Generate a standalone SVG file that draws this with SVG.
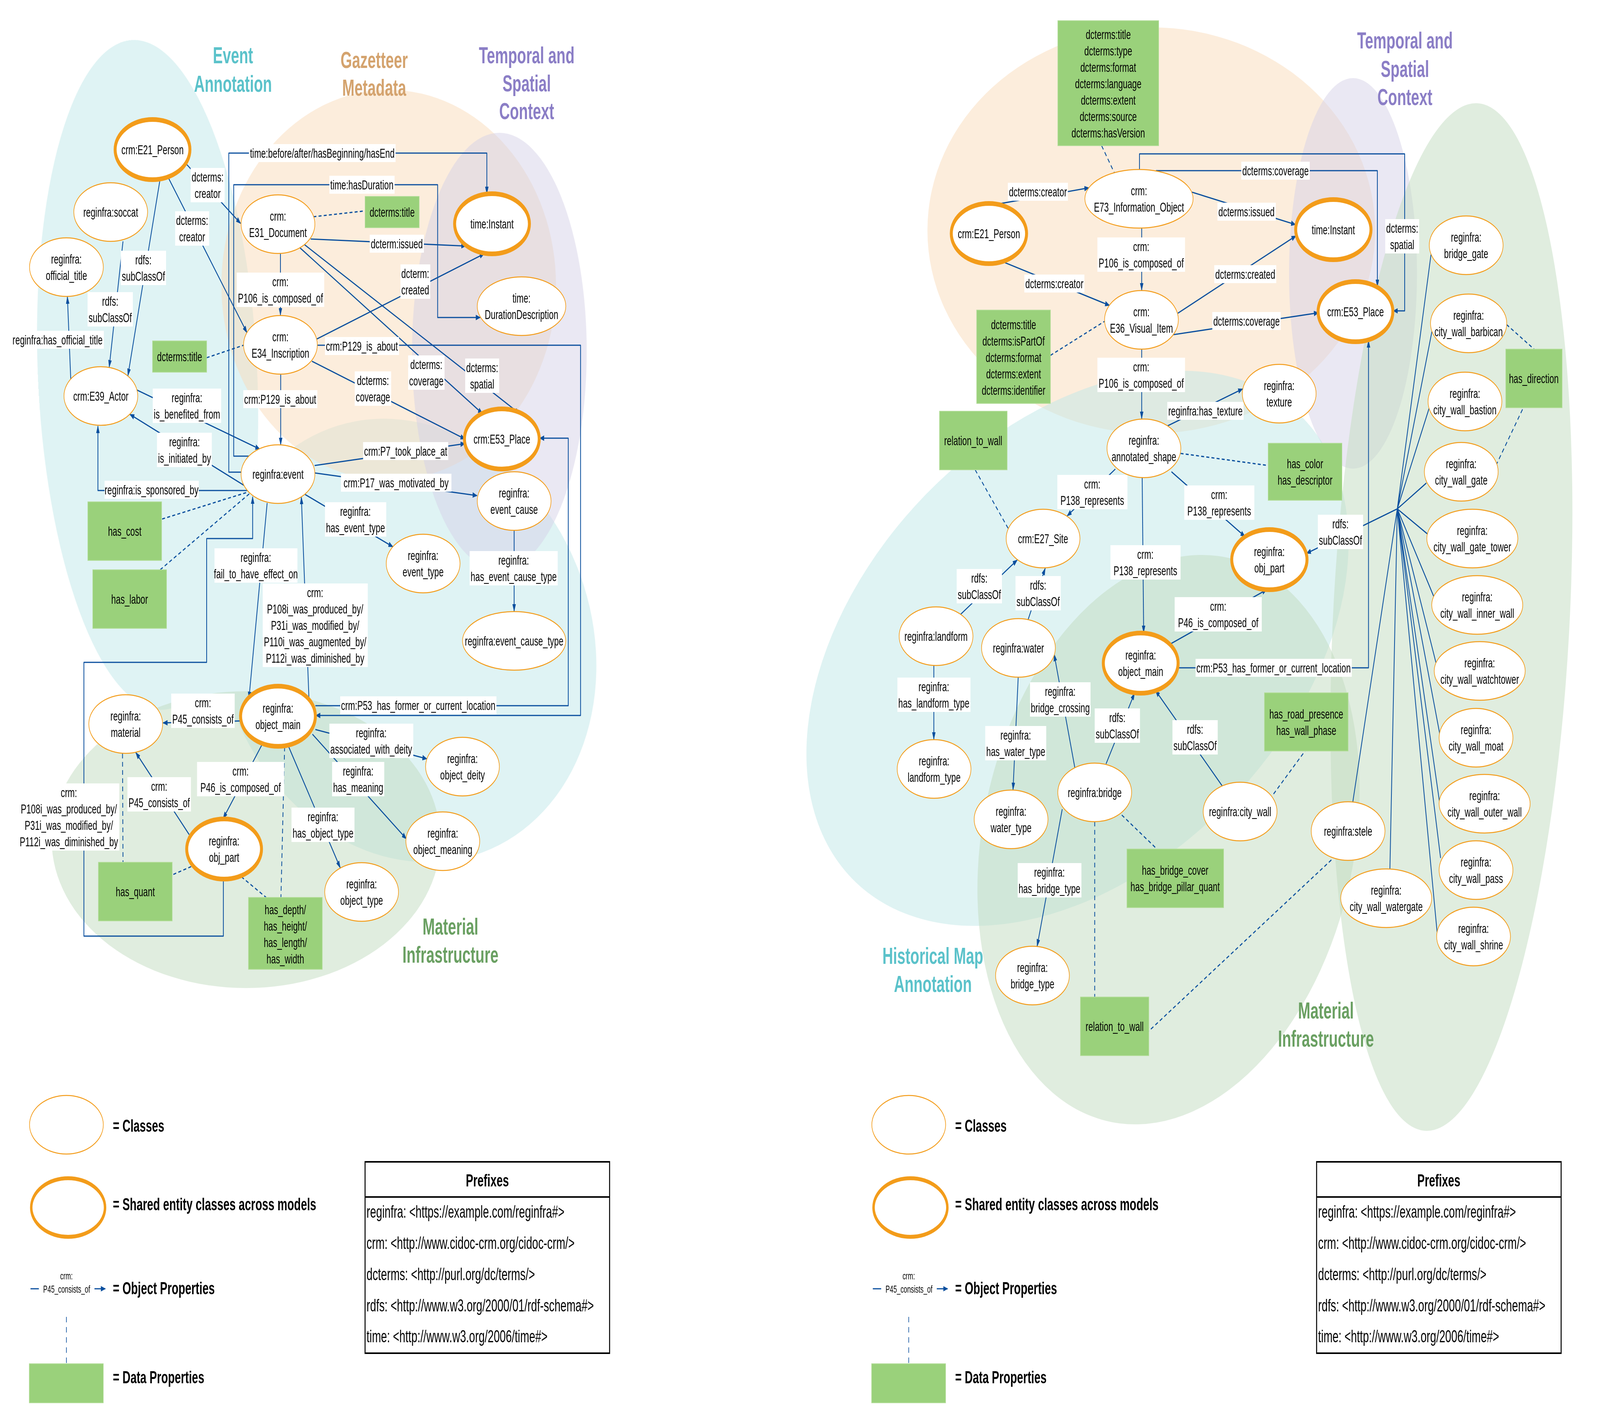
<svg xmlns="http://www.w3.org/2000/svg" width="6504" height="3613" viewBox="0 0 6504 3613" preserveAspectRatio="none">
<defs>
<marker id="ah" markerUnits="userSpaceOnUse" markerWidth="20" markerHeight="14" refX="18" refY="7" orient="auto"><path d="M0,0 L20,7 L0,14 z" fill="#0A4F9E"/></marker>
<style>
@media (max-width: 6400px) { svg:root { width: 100vw; } }
.n{fill:#fff;stroke:#F39C1A;stroke-width:2.5}
.s{fill:#fff;stroke:#F39C1A;stroke-width:12}
.t{font-family:"Liberation Sans",Arial,sans-serif;font-size:34px;fill:#000;text-anchor:middle}
.g{fill:#9AD17B;stroke:#B3DD99;stroke-width:2}
.e{fill:none;stroke:#0A4F9E;stroke-width:3.2;stroke-linejoin:round}
.a{marker-end:url(#ah)}
.d{fill:none;stroke:#0A4F9E;stroke-width:3.2;stroke-dasharray:12 9}
.lb{fill:#fff}
.ti{font-family:"Liberation Sans",Arial,sans-serif;font-weight:bold;font-size:60px;text-anchor:middle}
.lg{font-family:"Liberation Sans",Arial,sans-serif;font-weight:bold;font-size:45px;fill:#000}
.pf{font-family:"Liberation Sans",Arial,sans-serif;font-size:44px;fill:#000}
.sm{font-family:"Liberation Sans",Arial,sans-serif;font-size:26px;fill:#000;text-anchor:middle}
.teal{fill:#5BC2CA}.tan{fill:#D4A36E}.pur{fill:#8B7EC6}.grn{fill:#6AA062}
</style>
</defs>
<rect width="6504" height="3613" fill="#fff"/>

<!-- LEFT BACKGROUND AREAS -->
<g id="bg-left">
<g opacity="0.5" fill="#BFE7E8"><ellipse cx="600" cy="960" rx="445" ry="860" transform="rotate(-5 600 960)"/><ellipse cx="1650" cy="1640" rx="780" ry="560" transform="rotate(10 1650 1640)"/><ellipse cx="900" cy="1600" rx="220" ry="260"/></g>
<ellipse cx="1580" cy="730" rx="680" ry="500" fill="#F9DCBA" opacity="0.5"/>
<ellipse cx="2030" cy="900" rx="355" ry="560" fill="#D6D1E8" opacity="0.5"/>
<ellipse cx="1000" cy="2150" rx="790" ry="380" fill="#C2DCC0" opacity="0.5"/>
</g>
<!-- RIGHT BACKGROUND AREAS -->
<g id="bg-right">
<ellipse cx="4680" cy="590" rx="910" ry="520" fill="#F9DCBA" opacity="0.5"/>
<ellipse cx="5500" cy="700" rx="260" ry="500" fill="#D6D1E8" opacity="0.5"/>
<ellipse cx="4380" cy="1660" rx="1150" ry="630" transform="rotate(-20 4380 1660)" fill="#BFE7E8" opacity="0.5"/>
<ellipse cx="4750" cy="2150" rx="820" ry="680" transform="rotate(-35 4750 2150)" fill="#C2DCC0" opacity="0.5"/>
<ellipse cx="5900" cy="1580" rx="480" ry="1320" transform="rotate(5 5900 1580)" fill="#C2DCC0" opacity="0.5"/>
</g>

<!-- TITLES -->
<g id="titles">
<text class="ti teal" x="947" y="162">Event</text><text class="ti teal" x="947" y="235">Annotation</text>
<text class="ti tan" x="1521" y="174">Gazetteer</text><text class="ti tan" x="1521" y="245">Metadata</text>
<text class="ti pur" x="2141" y="162">Temporal and</text><text class="ti pur" x="2141" y="234">Spatial</text><text class="ti pur" x="2141" y="305">Context</text>
<text class="ti grn" x="1831" y="2393">Material</text><text class="ti grn" x="1831" y="2465">Infrastructure</text>
<text class="ti pur" x="5711" y="124">Temporal and</text><text class="ti pur" x="5711" y="197">Spatial</text><text class="ti pur" x="5711" y="269">Context</text>
<text class="ti teal" x="3792" y="2468">Historical Map</text><text class="ti teal" x="3792" y="2540">Annotation</text>
<text class="ti grn" x="5390" y="2608">Material</text><text class="ti grn" x="5390" y="2680">Infrastructure</text>
</g>

<!-- CONNECTORS -->
<g id="connectors">
<path class="d" d="M1274,555 L1484,540"/>
<path class="d" d="M840,916 L990,884"/>
<path class="d" d="M659,1329 L1018,1258"/>
<path class="d" d="M651,1459 L1018,1262"/>
<path class="d" d="M498,1930 L500,2208"/>
<path class="d" d="M777,2219 L701,2240"/>
<path class="d" d="M1157,1912 L1142,2298"/>
<path class="d" d="M981,2245 L1082,2298"/>
<path class="e a" d="M756,419 L978,572"/>
<path class="e a" d="M685,456 L1004,852"/>
<path class="e a" d="M652,454 L520,962"/>
<path class="e a" d="M500,618 L444,940"/>
<path class="e a" d="M288,977 L274,760"/>
<path class="e a" d="M551,997 L1056,1150"/>
<path class="e a" d="M995,1244 L528,1061"/>
<path class="e a" d="M1006,1256 L398,1256 L398,1091"/>
<path class="e a" d="M1140,649 L1140,807"/>
<path class="e a" d="M1141,959 L1141,1139"/>
<path class="e a" d="M981,1209 L930,1209 L930,392 L1979,392 L1979,496"/>
<path class="e a" d="M1018,1168 L950,1168 L950,473 L1779,473 L1779,813 L1952,813"/>
<path class="e a" d="M1263,612 L1893,630"/>
<path class="e a" d="M1288,868 L1968,650"/>
<path class="e a" d="M1215,632 L1961,1059"/>
<path class="e a" d="M1237,626 L2112,1059"/>
<path class="e a" d="M1268,925 L1890,1124"/>
<path class="e a" d="M1290,884 L2360,884 L2360,1832 L1284,1832"/>
<path class="e a" d="M1279,1192 L1890,1136"/>
<path class="e a" d="M1279,1211 L1939,1269"/>
<path class="e a" d="M1240,1266 L1597,1400"/>
<path class="e a" d="M2090,1358 L2090,1565"/>
<path class="e a" d="M1086,1288 L1012,1789"/>
<path class="e a" d="M1256,1791 L1225,1273"/>
<path class="e a" d="M1282,1807 L2310,1807 L2310,1122 L2194,1122"/>
<path class="e a" d="M978,1846 L663,1851"/>
<path class="e a" d="M1064,1908 L907,2096"/>
<path class="e a" d="M769,2137 L552,1927"/>
<path class="e a" d="M908,2252 L908,2397 L341,2397 L341,1696 L840,1696 L840,1379 L1027,1379 L1027,1272"/>
<path class="e a" d="M1282,1868 L1735,1943"/>
<path class="e a" d="M1270,1880 L1652,2148"/>
<path class="e a" d="M1172,1910 L1383,2222"/>

<path class="d" d="M4478,373 L4534,448"/>
<path class="d" d="M4270,910 L4492,822"/>
<path class="d" d="M3964,1203 L4100,1355"/>
<path class="d" d="M4799,1161 L5155,1192"/>
<path class="d" d="M4450,2104 L4450,2553"/>
<path class="d" d="M4560,2087 L4703,2174"/>
<path class="d" d="M5177,2033 L5305,1923"/>
<path class="d" d="M5412,2202 L4670,2640"/>
<path class="d" d="M6124,831 L6236,894"/>
<path class="d" d="M6081,1192 L6193,1043"/>
<path class="e a" d="M4033,525 L4426,481"/>
<path class="e a" d="M4083,672 L4510,782"/>
<path class="e a" d="M4641,584 L4641,743"/>
<path class="e a" d="M4641,894 L4641,1072"/>
<path class="e a" d="M4845,492 L5266,575"/>
<path class="e a" d="M4788,802 L5268,604"/>
<path class="e a" d="M4769,857 L5359,801"/>
<path class="e a" d="M4699,437 L5599,437 L5599,734"/>
<path class="e a" d="M4632,434 L4632,394 L5710,394 L5710,796 L5664,796"/>
<path class="e a" d="M4738,1093 L5051,996"/>
<path class="e a" d="M4534,1201 L4338,1321"/>
<path class="e a" d="M4762,1208 L5061,1374"/>
<path class="e a" d="M4643,1223 L4649,1620"/>
<path class="e a" d="M4749,1652 L5149,1510"/>
<path class="e a" d="M4789,1710 L5563,1710 L5563,872"/>
<path class="e a" d="M3905,1573 L4135,1434"/>
<path class="e a" d="M4179,1587 L4249,1455"/>
<path class="e a" d="M3796,1704 L3796,1893"/>
<path class="e a" d="M4139,1734 L4118,2022"/>
<path class="e a" d="M4369,1965 L4285,1675"/>
<path class="e a" d="M4318,2072 L4216,2423"/>
<path class="e a" d="M4496,1956 L4612,1775"/>
<path class="e a" d="M4969,2013 L4697,1768"/>
<path class="e a" d="M5680,1303 L5311,1417"/>
<path class="e" d="M5680,1303 L5817,652 M5680,1303 L5821,848 M5680,1303 L5809,1046 M5680,1303 L5798,1237 M5680,1303 L5806,1369 M5680,1303 L5830,1530 M5680,1303 L5842,1709 M5680,1303 L5860,1904 M5680,1303 L5852,2055 M5680,1303 L5856,2197 M5680,1303 L5845,2408 M5680,1303 L5650,2225 M5680,1303 L5499,2054"/>

<g><rect class="lb" x="775" y="430" width="138" height="88"/><text class="t"><tspan x="844" y="465">dcterms:</tspan><tspan x="844" y="507">creator</tspan></text></g>
<g><rect class="lb" x="712" y="541" width="138" height="88"/><text class="t"><tspan x="781" y="576">dcterms:</tspan><tspan x="781" y="618">creator</tspan></text></g>
<g><rect class="lb" x="491" y="642" width="184" height="88"/><text class="t"><tspan x="583" y="677">rdfs:</tspan><tspan x="583" y="719">subClassOf</tspan></text></g>
<g><rect class="lb" x="356" y="748" width="184" height="88"/><text class="t"><tspan x="448" y="783">rdfs:</tspan><tspan x="448" y="825">subClassOf</tspan></text></g>
<g><rect class="lb" x="47" y="847" width="375" height="46"/><text class="t" x="234" y="882">reginfra:has_official_title</text></g>
<g><rect class="lb" x="621" y="995" width="278" height="88"/><text class="t"><tspan x="760" y="1030">reginfra:</tspan><tspan x="760" y="1072">is_benefited_from</tspan></text></g>
<g><rect class="lb" x="638" y="1108" width="223" height="88"/><text class="t"><tspan x="750" y="1143">reginfra:</tspan><tspan x="750" y="1185">is_initiated_by</tspan></text></g>
<g><rect class="lb" x="425" y="1231" width="383" height="46"/><text class="t" x="616" y="1266">reginfra:is_sponsored_by</text></g>
<g><rect class="lb" x="962" y="698" width="356" height="88"/><text class="t"><tspan x="1140" y="733">crm:</tspan><tspan x="1140" y="775">P106_is_composed_of</tspan></text></g>
<g><rect class="lb" x="989" y="999" width="301" height="46"/><text class="t" x="1139" y="1034">crm:P129_is_about</text></g>
<g><rect class="lb" x="1012" y="369" width="596" height="46"/><text class="t" x="1310" y="404">time:before/after/hasBeginning/hasEnd</text></g>
<g><rect class="lb" x="1339" y="450" width="265" height="46"/><text class="t" x="1471" y="485">time:hasDuration</text></g>
<g><rect class="lb" x="1503" y="601" width="220" height="46"/><text class="t" x="1613" y="636">dcterm:issued</text></g>
<g><rect class="lb" x="1628" y="677" width="121" height="88"/><text class="t"><tspan x="1688" y="712">dcterm:</tspan><tspan x="1688" y="754">created</tspan></text></g>
<g><rect class="lb" x="1659" y="910" width="148" height="88"/><text class="t"><tspan x="1733" y="945">dcterms:</tspan><tspan x="1733" y="987">coverage</tspan></text></g>
<g><rect class="lb" x="1891" y="918" width="138" height="88"/><text class="t"><tspan x="1960" y="953">dcterms:</tspan><tspan x="1960" y="995">spatial</tspan></text></g>
<g><rect class="lb" x="1442" y="951" width="148" height="88"/><text class="t"><tspan x="1516" y="986">dcterms:</tspan><tspan x="1516" y="1028">coverage</tspan></text></g>
<g><rect class="lb" x="1321" y="863" width="301" height="46"/><text class="t" x="1471" y="898">crm:P129_is_about</text></g>
<g><rect class="lb" x="1476" y="1132" width="346" height="46"/><text class="t" x="1649" y="1167">crm:P7_took_place_at</text></g>
<g><rect class="lb" x="1386" y="1213" width="449" height="46"/><text class="t" x="1610" y="1248">crm:P17_was_motivated_by</text></g>
<g><rect class="lb" x="1321" y="1286" width="249" height="88"/><text class="t"><tspan x="1445" y="1321">reginfra:</tspan><tspan x="1445" y="1363">has_event_type</tspan></text></g>
<g><rect class="lb" x="1909" y="1411" width="358" height="88"/><text class="t"><tspan x="2088" y="1446">reginfra:</tspan><tspan x="2088" y="1488">has_event_cause_type</tspan></text></g>
<g><rect class="lb" x="872" y="1404" width="337" height="88"/><text class="t"><tspan x="1040" y="1439">reginfra:</tspan><tspan x="1040" y="1481">fail_to_have_effect_on</tspan></text></g>
<g><rect class="lb" x="1068" y="1494" width="427" height="214"/><text class="t"><tspan x="1281" y="1529">crm:</tspan><tspan x="1281" y="1571">P108i_was_produced_by/</tspan><tspan x="1281" y="1613">P31i_was_modified_by/</tspan><tspan x="1281" y="1655">P110i_was_augmented_by/</tspan><tspan x="1281" y="1697">P112i_was_diminished_by</tspan></text></g>
<g><rect class="lb" x="1383" y="1783" width="635" height="46"/><text class="t" x="1700" y="1818">crm:P53_has_former_or_current_location</text></g>
<g><rect class="lb" x="696" y="1776" width="258" height="88"/><text class="t"><tspan x="825" y="1811">crm:</tspan><tspan x="825" y="1853">P45_consists_of</tspan></text></g>
<g><rect class="lb" x="801" y="1951" width="354" height="88"/><text class="t"><tspan x="978" y="1986">crm:</tspan><tspan x="978" y="2028">P46_is_composed_of</tspan></text></g>
<g><rect class="lb" x="518" y="1990" width="258" height="88"/><text class="t"><tspan x="647" y="2025">crm:</tspan><tspan x="647" y="2067">P45_consists_of</tspan></text></g>
<g><rect class="lb" x="75" y="2006" width="410" height="172"/><text class="t"><tspan x="280" y="2041">crm:</tspan><tspan x="280" y="2083">P108i_was_produced_by/</tspan><tspan x="280" y="2125">P31i_was_modified_by/</tspan><tspan x="280" y="2167">P112i_was_diminished_by</tspan></text></g>
<g><rect class="lb" x="1339" y="1853" width="341" height="88"/><text class="t"><tspan x="1509" y="1888">reginfra:</tspan><tspan x="1509" y="1930">associated_with_deity</tspan></text></g>
<g><rect class="lb" x="1350" y="1951" width="212" height="88"/><text class="t"><tspan x="1456" y="1986">reginfra:</tspan><tspan x="1456" y="2028">has_meaning</tspan></text></g>
<g><rect class="lb" x="1185" y="2068" width="256" height="88"/><text class="t"><tspan x="1313" y="2103">reginfra:</tspan><tspan x="1313" y="2145">has_object_type</tspan></text></g>

<g><rect class="lb" x="4097" y="468" width="244" height="46"/><text class="t" x="4219" y="503">dcterms:creator</text></g>
<g><rect class="lb" x="4164" y="703" width="244" height="46"/><text class="t" x="4286" y="738">dcterms:creator</text></g>
<g><rect class="lb" x="4461" y="608" width="356" height="88"/><text class="t"><tspan x="4639" y="643">crm:</tspan><tspan x="4639" y="685">P106_is_composed_of</tspan></text></g>
<g><rect class="lb" x="4461" y="916" width="356" height="88"/><text class="t"><tspan x="4639" y="951">crm:</tspan><tspan x="4639" y="993">P106_is_composed_of</tspan></text></g>
<g><rect class="lb" x="4949" y="519" width="237" height="46"/><text class="t" x="5067" y="554">dcterms:issued</text></g>
<g><rect class="lb" x="4936" y="679" width="252" height="46"/><text class="t" x="5062" y="714">dcterms:created</text></g>
<g><rect class="lb" x="4928" y="799" width="278" height="46"/><text class="t" x="5067" y="834">dcterms:coverage</text></g>
<g><rect class="lb" x="5046" y="414" width="278" height="46"/><text class="t" x="5185" y="449">dcterms:coverage</text></g>
<g><rect class="lb" x="5631" y="561" width="138" height="88"/><text class="t"><tspan x="5700" y="596">dcterms:</tspan><tspan x="5700" y="638">spatial</tspan></text></g>
<g><rect class="lb" x="4745" y="1029" width="310" height="46"/><text class="t" x="4900" y="1064">reginfra:has_texture</text></g>
<g><rect class="lb" x="4298" y="1216" width="285" height="88"/><text class="t"><tspan x="4440" y="1251">crm:</tspan><tspan x="4440" y="1293">P138_represents</tspan></text></g>
<g><rect class="lb" x="4814" y="1243" width="285" height="88"/><text class="t"><tspan x="4956" y="1278">crm:</tspan><tspan x="4956" y="1320">P138_represents</tspan></text></g>
<g><rect class="lb" x="4514" y="1396" width="285" height="88"/><text class="t"><tspan x="4656" y="1431">crm:</tspan><tspan x="4656" y="1473">P138_represents</tspan></text></g>
<g><rect class="lb" x="4775" y="1529" width="354" height="88"/><text class="t"><tspan x="4952" y="1564">crm:</tspan><tspan x="4952" y="1606">P46_is_composed_of</tspan></text></g>
<g><rect class="lb" x="4860" y="1687" width="635" height="46"/><text class="t" x="5177" y="1722">crm:P53_has_former_or_current_location</text></g>
<g><rect class="lb" x="3889" y="1457" width="184" height="88"/><text class="t"><tspan x="3981" y="1492">rdfs:</tspan><tspan x="3981" y="1534">subClassOf</tspan></text></g>
<g><rect class="lb" x="4128" y="1475" width="184" height="88"/><text class="t"><tspan x="4220" y="1510">rdfs:</tspan><tspan x="4220" y="1552">subClassOf</tspan></text></g>
<g><rect class="lb" x="3648" y="1735" width="297" height="88"/><text class="t"><tspan x="3796" y="1770">reginfra:</tspan><tspan x="3796" y="1812">has_landform_type</tspan></text></g>
<g><rect class="lb" x="4005" y="1859" width="248" height="88"/><text class="t"><tspan x="4129" y="1894">reginfra:</tspan><tspan x="4129" y="1936">has_water_type</tspan></text></g>
<g><rect class="lb" x="4187" y="1747" width="246" height="88"/><text class="t"><tspan x="4310" y="1782">reginfra:</tspan><tspan x="4310" y="1824">bridge_crossing</tspan></text></g>
<g><rect class="lb" x="4137" y="2210" width="259" height="88"/><text class="t"><tspan x="4266" y="2245">reginfra:</tspan><tspan x="4266" y="2287">has_bridge_type</tspan></text></g>
<g><rect class="lb" x="4450" y="1814" width="184" height="88"/><text class="t"><tspan x="4542" y="1849">rdfs:</tspan><tspan x="4542" y="1891">subClassOf</tspan></text></g>
<g><rect class="lb" x="4766" y="1844" width="184" height="88"/><text class="t"><tspan x="4858" y="1879">rdfs:</tspan><tspan x="4858" y="1921">subClassOf</tspan></text></g>
<g><rect class="lb" x="5357" y="1318" width="184" height="88"/><text class="t"><tspan x="5449" y="1353">rdfs:</tspan><tspan x="5449" y="1395">subClassOf</tspan></text></g>
</g>

<g id="d-l-title1"><rect class="g" x="1484" y="503" width="220" height="80"/><text class="t" x="1594" y="555">dcterms:title</text></g>
<g id="d-l-title2"><rect class="g" x="620" y="873" width="220" height="80"/><text class="t" x="730" y="925">dcterms:title</text></g>
<g id="d-l-cost"><rect class="g" x="357" y="1285" width="300" height="150"/><text class="t" x="507" y="1372">has_cost</text></g>
<g id="d-l-labor"><rect class="g" x="377" y="1459" width="300" height="150"/><text class="t" x="527" y="1546">has_labor</text></g>
<g id="d-l-quant"><rect class="g" x="400" y="2208" width="300" height="150"/><text class="t" x="550" y="2295">has_quant</text></g>
<g id="d-l-dims"><rect class="g" x="1010" y="2298" width="300" height="184"/><text class="t"><tspan x="1160" y="2341">has_depth/</tspan><tspan x="1160" y="2383">has_height/</tspan><tspan x="1160" y="2425">has_length/</tspan><tspan x="1160" y="2467">has_width</tspan></text></g>

<g id="n-l-e21"><ellipse class="s" cx="620" cy="383" rx="152" ry="77"/><text class="t" x="620" y="395">crm:E21_Person</text></g>
<g id="n-l-soccat"><ellipse class="n" cx="450" cy="543" rx="150" ry="75"/><text class="t" x="450" y="555">reginfra:soccat</text></g>
<g id="n-l-official"><ellipse class="n" cx="270" cy="684" rx="150" ry="75"/><text class="t"><tspan x="270" y="675">reginfra:</tspan><tspan x="270" y="717">official_title</tspan></text></g>
<g id="n-l-e39"><ellipse class="n" cx="410" cy="1014" rx="150" ry="75"/><text class="t" x="410" y="1026">crm:E39_Actor</text></g>
<g id="n-l-e31"><ellipse class="n" cx="1130" cy="574" rx="150" ry="75"/><text class="t"><tspan x="1130" y="565">crm:</tspan><tspan x="1130" y="607">E31_Document</tspan></text></g>
<g id="n-l-e34"><ellipse class="n" cx="1140" cy="883" rx="150" ry="75"/><text class="t"><tspan x="1140" y="874">crm:</tspan><tspan x="1140" y="916">E34_Inscription</tspan></text></g>
<g id="n-l-event"><ellipse class="n" cx="1130" cy="1214" rx="150" ry="75"/><text class="t" x="1130" y="1226">reginfra:event</text></g>
<g id="n-l-instant"><ellipse class="s" cx="2000" cy="573" rx="152" ry="77"/><text class="t" x="2000" y="585">time:Instant</text></g>
<g id="n-l-duration"><ellipse class="n" cx="2120" cy="784" rx="180" ry="75"/><text class="t"><tspan x="2120" y="775">time:</tspan><tspan x="2120" y="817">DurationDescription</tspan></text></g>
<g id="n-l-e53"><ellipse class="s" cx="2040" cy="1124" rx="152" ry="77"/><text class="t" x="2040" y="1136">crm:E53_Place</text></g>
<g id="n-l-cause"><ellipse class="n" cx="2090" cy="1283" rx="150" ry="75"/><text class="t"><tspan x="2090" y="1274">reginfra:</tspan><tspan x="2090" y="1316">event_cause</tspan></text></g>
<g id="n-l-causetype"><ellipse class="n" cx="2090" cy="1641" rx="210" ry="75"/><text class="t" x="2090" y="1653">reginfra:event_cause_type</text></g>
<g id="n-l-eventtype"><ellipse class="n" cx="1720" cy="1443" rx="150" ry="75"/><text class="t"><tspan x="1720" y="1434">reginfra:</tspan><tspan x="1720" y="1476">event_type</tspan></text></g>
<g id="n-l-objmain"><ellipse class="s" cx="1130" cy="1834" rx="152" ry="77"/><text class="t"><tspan x="1130" y="1825">reginfra:</tspan><tspan x="1130" y="1867">object_main</tspan></text></g>
<g id="n-l-material"><ellipse class="n" cx="511" cy="1854" rx="150" ry="75"/><text class="t"><tspan x="511" y="1845">reginfra:</tspan><tspan x="511" y="1887">material</tspan></text></g>
<g id="n-l-objpart"><ellipse class="s" cx="911" cy="2174" rx="152" ry="77"/><text class="t"><tspan x="911" y="2165">reginfra:</tspan><tspan x="911" y="2207">obj_part</tspan></text></g>
<g id="n-l-deity"><ellipse class="n" cx="1880" cy="1963" rx="150" ry="75"/><text class="t"><tspan x="1880" y="1954">reginfra:</tspan><tspan x="1880" y="1996">object_deity</tspan></text></g>
<g id="n-l-meaning"><ellipse class="n" cx="1800" cy="2154" rx="150" ry="75"/><text class="t"><tspan x="1800" y="2145">reginfra:</tspan><tspan x="1800" y="2187">object_meaning</tspan></text></g>
<g id="n-l-objtype"><ellipse class="n" cx="1470" cy="2284" rx="150" ry="75"/><text class="t"><tspan x="1470" y="2275">reginfra:</tspan><tspan x="1470" y="2317">object_type</tspan></text></g>

<g id="d-r-dc7"><rect class="g" x="4300" y="53" width="410" height="320"/><text class="t"><tspan x="4505" y="100">dcterms:title</tspan><tspan x="4505" y="142">dcterms:type</tspan><tspan x="4505" y="184">dcterms:format</tspan><tspan x="4505" y="226">dcterms:language</tspan><tspan x="4505" y="268">dcterms:extent</tspan><tspan x="4505" y="310">dcterms:source</tspan><tspan x="4505" y="352">dcterms:hasVersion</tspan></text></g>
<g id="d-r-dc5"><rect class="g" x="3970" y="794" width="300" height="239"/><text class="t"><tspan x="4120" y="843">dcterms:title</tspan><tspan x="4120" y="885">dcterms:isPartOf</tspan><tspan x="4120" y="927">dcterms:format</tspan><tspan x="4120" y="969">dcterms:extent</tspan><tspan x="4120" y="1011">dcterms:identifier</tspan></text></g>
<g id="d-r-rel1"><rect class="g" x="3819" y="1053" width="275" height="150"/><text class="t" x="3956" y="1140">relation_to_wall</text></g>
<g id="d-r-color"><rect class="g" x="5155" y="1135" width="300" height="146"/><text class="t"><tspan x="5305" y="1199">has_color</tspan><tspan x="5305" y="1241">has_descriptor</tspan></text></g>
<g id="d-r-road"><rect class="g" x="5140" y="1774" width="340" height="149"/><text class="t"><tspan x="5310" y="1840">has_road_presence</tspan><tspan x="5310" y="1882">has_wall_phase</tspan></text></g>
<g id="d-r-bcover"><rect class="g" x="4581" y="2174" width="393" height="150"/><text class="t"><tspan x="4777" y="2240">has_bridge_cover</tspan><tspan x="4777" y="2282">has_bridge_pillar_quant</tspan></text></g>
<g id="d-r-rel2"><rect class="g" x="4392" y="2553" width="278" height="150"/><text class="t" x="4531" y="2640">relation_to_wall</text></g>
<g id="d-r-dir"><rect class="g" x="6121" y="894" width="229" height="150"/><text class="t" x="6235" y="981">has_direction</text></g>

<g id="n-r-e21"><ellipse class="s" cx="4020" cy="598" rx="153" ry="77"/><text class="t" x="4020" y="610">crm:E21_Person</text></g>
<g id="n-r-e73"><ellipse class="n" cx="4630" cy="509" rx="220" ry="75"/><text class="t"><tspan x="4630" y="500">crm:</tspan><tspan x="4630" y="542">E73_Information_Object</tspan></text></g>
<g id="n-r-e36"><ellipse class="n" cx="4640" cy="819" rx="150" ry="75"/><text class="t"><tspan x="4640" y="810">crm:</tspan><tspan x="4640" y="852">E36_Visual_Item</tspan></text></g>
<g id="n-r-instant"><ellipse class="s" cx="5420" cy="588" rx="153" ry="77"/><text class="t" x="5420" y="600">time:Instant</text></g>
<g id="n-r-e53"><ellipse class="s" cx="5510" cy="798" rx="152" ry="77"/><text class="t" x="5510" y="810">crm:E53_Place</text></g>
<g id="n-r-shape"><ellipse class="n" cx="4650" cy="1148" rx="150" ry="75"/><text class="t"><tspan x="4650" y="1139">reginfra:</tspan><tspan x="4650" y="1181">annotated_shape</tspan></text></g>
<g id="n-r-texture"><ellipse class="n" cx="5200" cy="1008" rx="150" ry="75"/><text class="t"><tspan x="5200" y="999">reginfra:</tspan><tspan x="5200" y="1041">texture</tspan></text></g>
<g id="n-r-e27"><ellipse class="n" cx="4240" cy="1379" rx="150" ry="75"/><text class="t" x="4240" y="1391">crm:E27_Site</text></g>
<g id="n-r-landform"><ellipse class="n" cx="3805" cy="1629" rx="150" ry="75"/><text class="t" x="3805" y="1641">reginfra:landform</text></g>
<g id="n-r-water"><ellipse class="n" cx="4140" cy="1659" rx="150" ry="75"/><text class="t" x="4140" y="1671">reginfra:water</text></g>
<g id="n-r-landformtype"><ellipse class="n" cx="3797" cy="1969" rx="150" ry="75"/><text class="t"><tspan x="3797" y="1960">reginfra:</tspan><tspan x="3797" y="2002">landform_type</tspan></text></g>
<g id="n-r-watertype"><ellipse class="n" cx="4110" cy="2098" rx="150" ry="75"/><text class="t"><tspan x="4110" y="2089">reginfra:</tspan><tspan x="4110" y="2131">water_type</tspan></text></g>
<g id="n-r-bridge"><ellipse class="n" cx="4450" cy="2029" rx="150" ry="75"/><text class="t" x="4450" y="2041">reginfra:bridge</text></g>
<g id="n-r-bridgetype"><ellipse class="n" cx="4197" cy="2498" rx="150" ry="75"/><text class="t"><tspan x="4197" y="2489">reginfra:</tspan><tspan x="4197" y="2531">bridge_type</tspan></text></g>
<g id="n-r-objmain"><ellipse class="s" cx="4637" cy="1698" rx="152" ry="77"/><text class="t"><tspan x="4637" y="1689">reginfra:</tspan><tspan x="4637" y="1731">object_main</tspan></text></g>
<g id="n-r-objpart"><ellipse class="s" cx="5160" cy="1433" rx="153" ry="77"/><text class="t"><tspan x="5160" y="1424">reginfra:</tspan><tspan x="5160" y="1466">obj_part</tspan></text></g>
<g id="n-r-citywall"><ellipse class="n" cx="5041" cy="2078" rx="150" ry="75"/><text class="t" x="5041" y="2090">reginfra:city_wall</text></g>
<g id="n-r-stele"><ellipse class="n" cx="5480" cy="2128" rx="150" ry="75"/><text class="t" x="5480" y="2140">reginfra:stele</text></g>
<g id="n-r-watergate"><ellipse class="n" cx="5635" cy="2300" rx="185" ry="75"/><text class="t"><tspan x="5635" y="2291">reginfra:</tspan><tspan x="5635" y="2333">city_wall_watergate</tspan></text></g>
<g id="n-r-bridgegate"><ellipse class="n" cx="5960" cy="628" rx="150" ry="75"/><text class="t"><tspan x="5960" y="619">reginfra:</tspan><tspan x="5960" y="661">bridge_gate</tspan></text></g>
<g id="n-r-barbican"><ellipse class="n" cx="5970" cy="828" rx="155" ry="75"/><text class="t"><tspan x="5970" y="819">reginfra:</tspan><tspan x="5970" y="861">city_wall_barbican</tspan></text></g>
<g id="n-r-bastion"><ellipse class="n" cx="5955" cy="1028" rx="150" ry="75"/><text class="t"><tspan x="5955" y="1019">reginfra:</tspan><tspan x="5955" y="1061">city_wall_bastion</tspan></text></g>
<g id="n-r-gate"><ellipse class="n" cx="5940" cy="1208" rx="150" ry="75"/><text class="t"><tspan x="5940" y="1199">reginfra:</tspan><tspan x="5940" y="1241">city_wall_gate</tspan></text></g>
<g id="n-r-gatetower"><ellipse class="n" cx="5985" cy="1379" rx="185" ry="75"/><text class="t"><tspan x="5985" y="1370">reginfra:</tspan><tspan x="5985" y="1412">city_wall_gate_tower</tspan></text></g>
<g id="n-r-innerwall"><ellipse class="n" cx="6005" cy="1549" rx="185" ry="75"/><text class="t"><tspan x="6005" y="1540">reginfra:</tspan><tspan x="6005" y="1582">city_wall_inner_wall</tspan></text></g>
<g id="n-r-watchtower"><ellipse class="n" cx="6015" cy="1718" rx="185" ry="75"/><text class="t"><tspan x="6015" y="1709">reginfra:</tspan><tspan x="6015" y="1751">city_wall_watchtower</tspan></text></g>
<g id="n-r-moat"><ellipse class="n" cx="6000" cy="1889" rx="150" ry="75"/><text class="t"><tspan x="6000" y="1880">reginfra:</tspan><tspan x="6000" y="1922">city_wall_moat</tspan></text></g>
<g id="n-r-outerwall"><ellipse class="n" cx="6035" cy="2058" rx="185" ry="75"/><text class="t"><tspan x="6035" y="2049">reginfra:</tspan><tspan x="6035" y="2091">city_wall_outer_wall</tspan></text></g>
<g id="n-r-pass"><ellipse class="n" cx="6000" cy="2228" rx="150" ry="75"/><text class="t"><tspan x="6000" y="2219">reginfra:</tspan><tspan x="6000" y="2261">city_wall_pass</tspan></text></g>
<g id="n-r-shrine"><ellipse class="n" cx="5990" cy="2398" rx="150" ry="75"/><text class="t"><tspan x="5990" y="2389">reginfra:</tspan><tspan x="5990" y="2431">city_wall_shrine</tspan></text></g>

<g id="legend-left">
<ellipse class="n" cx="270" cy="2880" rx="150" ry="75"/>
<text class="lg" x="459" y="2898">= Classes</text>
<ellipse class="s" cx="277" cy="3092" rx="150" ry="75" style="stroke-width:10"/>
<text class="lg" x="459" y="3099">= Shared entity classes across models</text>
<path class="e a" d="M124,3300 L428,3300"/>
<rect class="lb" x="158" y="3286" width="226" height="30"/>
<text class="sm" x="270" y="3276">crm:</text>
<text class="sm" x="271" y="3310">P45_consists_of</text>
<text class="lg" x="459" y="3314">= Object Properties</text>
<path class="d" d="M270,3372 L270,3490" style="stroke-width:2.5;stroke-dasharray:14 12"/>
<rect class="g" x="119" y="3492" width="301" height="100"/>
<text class="lg" x="459" y="3542">= Data Properties</text>
<rect x="1484" y="2975" width="994" height="490" fill="#fff" stroke="#000" stroke-width="4"/>
<line x1="1484" y1="3065" x2="2478" y2="3065" stroke="#000" stroke-width="4"/>
<text class="lg" x="1981" y="3038" text-anchor="middle">Prefixes</text>
<text class="pf" x="1490" y="3118">reginfra: &lt;https://example.com/reginfra#&gt;</text>
<text class="pf" x="1490" y="3198">crm: &lt;http://www.cidoc-crm.org/cidoc-crm/&gt;</text>
<text class="pf" x="1490" y="3278">dcterms: &lt;http://purl.org/dc/terms/&gt;</text>
<text class="pf" x="1490" y="3358">rdfs: &lt;http://www.w3.org/2000/01/rdf-schema#&gt;</text>
<text class="pf" x="1490" y="3437">time: &lt;http://www.w3.org/2006/time#&gt;</text>
</g>

<g id="legend-right">
<ellipse class="n" cx="3694" cy="2880" rx="150" ry="75"/>
<text class="lg" x="3883" y="2898">= Classes</text>
<ellipse class="s" cx="3701" cy="3092" rx="150" ry="75" style="stroke-width:10"/>
<text class="lg" x="3883" y="3099">= Shared entity classes across models</text>
<path class="e a" d="M3548,3300 L3852,3300"/>
<rect class="lb" x="3582" y="3286" width="226" height="30"/>
<text class="sm" x="3694" y="3276">crm:</text>
<text class="sm" x="3695" y="3310">P45_consists_of</text>
<text class="lg" x="3883" y="3314">= Object Properties</text>
<path class="d" d="M3694,3372 L3694,3490" style="stroke-width:2.5;stroke-dasharray:14 12"/>
<rect class="g" x="3543" y="3492" width="301" height="100"/>
<text class="lg" x="3883" y="3542">= Data Properties</text>
<rect x="5352" y="2975" width="994" height="490" fill="#fff" stroke="#000" stroke-width="4"/>
<line x1="5352" y1="3065" x2="6346" y2="3065" stroke="#000" stroke-width="4"/>
<text class="lg" x="5849" y="3038" text-anchor="middle">Prefixes</text>
<text class="pf" x="5358" y="3118">reginfra: &lt;https://example.com/reginfra#&gt;</text>
<text class="pf" x="5358" y="3198">crm: &lt;http://www.cidoc-crm.org/cidoc-crm/&gt;</text>
<text class="pf" x="5358" y="3278">dcterms: &lt;http://purl.org/dc/terms/&gt;</text>
<text class="pf" x="5358" y="3358">rdfs: &lt;http://www.w3.org/2000/01/rdf-schema#&gt;</text>
<text class="pf" x="5358" y="3437">time: &lt;http://www.w3.org/2006/time#&gt;</text>
</g>
</svg>
